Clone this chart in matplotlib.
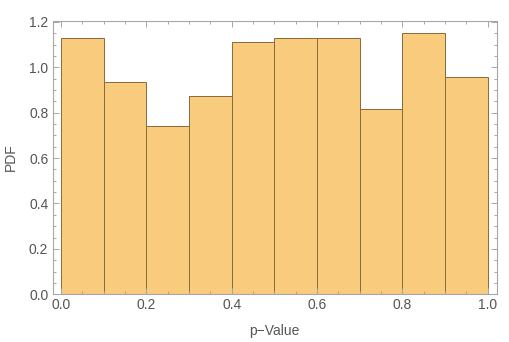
import matplotlib.pyplot as plt
import numpy as np
from matplotlib.ticker import MultipleLocator

# histogram bins (p-value) and density heights
bin_edges = [0.0, 0.1, 0.2, 0.3, 0.4, 0.5, 0.6, 0.7, 0.8, 0.9, 1.0]
pdf_values = [1.13, 0.935, 0.74, 0.875, 1.11, 1.13, 1.13, 0.815, 1.15, 0.955]
x_ticks = [0.0, 0.2, 0.4, 0.6, 0.8, 1.0]
y_ticks = [0.0, 0.2, 0.4, 0.6, 0.8, 1.0, 1.2]

plt.rcParams['font.family'] = ['Liberation Sans', 'DejaVu Sans']
frame_col = '#a6a6a6'
text_col = '#555555'

fig = plt.figure(figsize=(5.1, 3.42), dpi=100)
ax = fig.add_axes([0.103, 0.1395, 0.8715, 0.80])

edges = np.array(bin_edges)
ax.bar(edges[:-1], pdf_values, width=np.diff(edges), align='edge',
       color='#f9cb7d', edgecolor='#8a6a3c', linewidth=0.7)

ax.set_xlim(-0.02, 1.022)
ax.set_ylim(0, 1.205)
ax.set_xticks(x_ticks)
ax.set_yticks(y_ticks)
ax.set_xticklabels([f'{t:.1f}' for t in x_ticks])
ax.set_yticklabels([f'{t:.1f}' for t in y_ticks])
ax.xaxis.set_minor_locator(MultipleLocator(0.05))
ax.yaxis.set_minor_locator(MultipleLocator(0.05))
ax.tick_params(which='both', direction='in', top=True, right=True, color=frame_col, width=0.7)
ax.tick_params(which='major', length=4, labelsize=10, labelcolor=text_col, pad=3)
ax.tick_params(which='minor', length=2.2)
for s in ax.spines.values():
    s.set_color(frame_col); s.set_linewidth(0.8)

ax.set_xlabel('p\u2212Value', fontsize=10, color=text_col, labelpad=8)
ax.set_ylabel('PDF', fontsize=10, color=text_col, labelpad=8)

fig.savefig('out.png', dpi=100)
